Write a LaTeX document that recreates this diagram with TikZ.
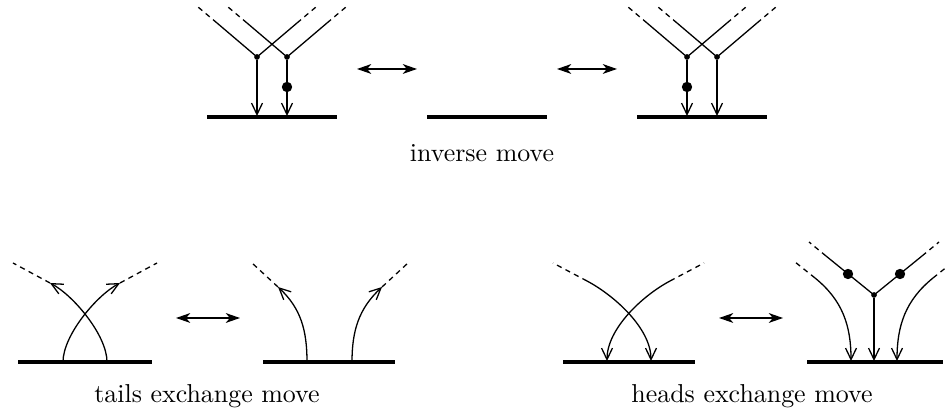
\documentclass[tikz,border=0pt]{standalone}
\usetikzlibrary{arrows.meta}

\begin{document}
\begin{tikzpicture}[x=0.386pt, y=0.386pt,
  strand/.style={line width=0.5pt, -{Straight Barb[length=4.4pt, width=4.2pt]}},
  leg/.style={line width=0.5pt},
  loose/.style={line width=0.5pt, dash pattern=on 2pt off 1.7pt},
  floor/.style={line width=1.4pt},
  movearr/.style={line width=0.5pt, {Stealth[length=5.5pt, width=3.8pt, inset=1.6pt]}-{Stealth[length=5.5pt, width=3.8pt, inset=1.6pt]}},
  vdot/.style={circle, fill, inner sep=0pt, minimum size=2.2pt},
  bigdot/.style={circle, fill, inner sep=0pt, minimum size=4pt},
  lbl/.style={anchor=base}
]
\useasboundingbox (0,0) rectangle (946,413);

% inverse move
\draw[floor] (207,296) -- (337,296);
\draw[floor] (427,296) -- (547,296);
\draw[floor] (637,296) -- (767,296);
\node[vdot] (a1) at (257,356) {};
\node[vdot] (a2) at (287,356) {};
\node[vdot] (b1) at (687,356) {};
\node[vdot] (b2) at (717,356) {};
\foreach \v in {a1,a2,b1,b2} {
  \draw[leg] (\v.center) -- ++(-40,34) coordinate (\v l);
  \draw[loose] (\v l) -- ++(-19,16);
  \draw[leg] (\v.center) -- ++(40,34) coordinate (\v r);
  \draw[loose] (\v r) -- ++(19,16);
}
\coordinate (a1f) at (257,297);
\coordinate (a2f) at (287,297);
\coordinate (b1f) at (687,297);
\coordinate (b2f) at (717,297);
\foreach \v in {a1,a2,b1,b2}
  \draw[strand] (\v) -- (\v f);
\node[bigdot] (a2d) at (287,326) {};
\node[bigdot] (b1d) at (687,326) {};
\coordinate (m1a) at (357,344); \coordinate (m1b) at (417,344);
\coordinate (m2a) at (557,344); \coordinate (m2b) at (617,344);
\draw[movearr] (m1a) -- (m1b);
\draw[movearr] (m2a) -- (m2b);
\node[lbl] (inv) at (482,251) {inverse move};

% tails exchange move
\draw[floor] (18,51) -- (152,51);
\coordinate (t1) at (63,51);  \coordinate (t1e) at (120,130);
\coordinate (t2) at (107,51); \coordinate (t2e) at (50,130);
\draw[strand] (t1) to[out=90, in=208, looseness=0.7] (t1e);
\draw[loose] (t1e) -- ++(37,20);
\draw[strand] (t2) to[out=90, in=-28, looseness=0.7] (t2e);
\draw[loose] (t2e) -- ++(-37,20);

\draw[floor] (263,51) -- (395,51);
\coordinate (u1) at (307,51); \coordinate (u1e) at (278,126);
\coordinate (u2) at (352,51); \coordinate (u2e) at (382,126);
\draw[strand] (u1) to[out=90, in=-43] (u1e);
\draw[loose] (u1e) -- ++(-26,24);
\draw[strand] (u2) to[out=90, in=223] (u2e);
\draw[loose] (u2e) -- ++(26,24);

\coordinate (m3a) at (176,95); \coordinate (m3b) at (240,95);
\draw[movearr] (m3a) -- (m3b);
\node[lbl] (tails) at (207,10) {tails exchange move};

% heads exchange move
\draw[floor] (563,51) -- (695,51);
\coordinate (g1) at (587,132); \coordinate (g1f) at (651,52);
\coordinate (g2) at (670,132); \coordinate (g2f) at (607,52);
\draw[loose] (g1) -- ++(-34,18);
\draw[strand] (g1) to[out=-28, in=90, looseness=0.8] (g1f);
\draw[loose] (g2) -- ++(34,18);
\draw[strand] (g2) to[out=208, in=90, looseness=0.8] (g2f);

\draw[floor] (807,51) -- (943,51);
\node[vdot] (h0) at (874,118) {};
\coordinate (h0f) at (874,52);
\draw[strand] (h0) -- (h0f);
\draw[leg] (h0.center) -- ++(-48,39) coordinate (h0l);
\draw[loose] (h0l) -- ++(-17,14);
\draw[leg] (h0.center) -- ++(48,39) coordinate (h0r);
\draw[loose] (h0r) -- ++(17,14);
\node[bigdot] (hl) at (848,139) {};
\node[bigdot] (hr) at (900,139) {};
\coordinate (h1) at (815,135); \coordinate (h1f) at (851,52);
\coordinate (h2) at (933,135); \coordinate (h2f) at (897,52);
\draw[loose] (h1) -- ++(-20,16);
\draw[strand] (h1) to[out=-39, in=90] (h1f);
\draw[loose] (h2) -- ++(20,16);
\draw[strand] (h2) to[out=219, in=90] (h2f);

\coordinate (m4a) at (719,95); \coordinate (m4b) at (783,95);
\draw[movearr] (m4a) -- (m4b);
\node[lbl] (heads) at (752,10) {heads exchange move};
\end{tikzpicture}
\end{document}
